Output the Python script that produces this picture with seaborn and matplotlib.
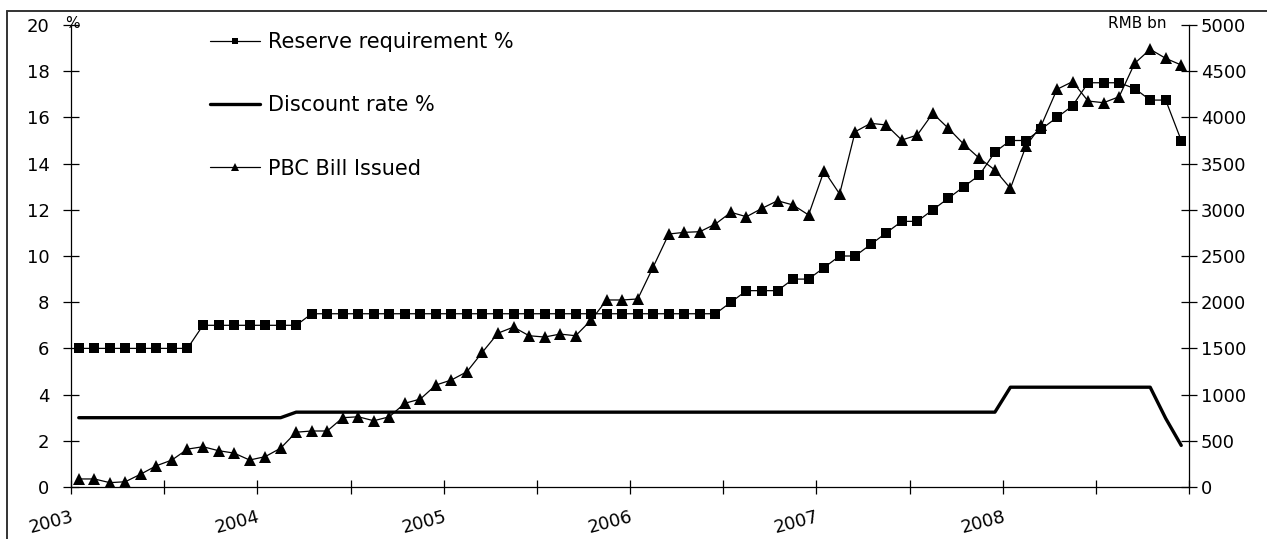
import numpy as np
import pandas as pd
import matplotlib
matplotlib.use("Agg")
import matplotlib.pyplot as plt
import matplotlib.transforms as mtransforms
from matplotlib.lines import Line2D
import seaborn as sns

# ---------------- data ----------------
years = ["2003", "2004", "2005", "2006", "2007", "2008"]
months = pd.date_range("2003-01-01", "2008-12-01", freq="MS")

reserve_req = [6, 6, 6, 6, 6, 6, 6, 6, 7, 7, 7, 7,
               7, 7, 7, 7.5, 7.5, 7.5, 7.5, 7.5, 7.5, 7.5, 7.5, 7.5,
               7.5, 7.5, 7.5, 7.5, 7.5, 7.5, 7.5, 7.5, 7.5, 7.5, 7.5, 7.5,
               7.5, 7.5, 7.5, 7.5, 7.5, 7.5, 8, 8.5, 8.5, 8.5, 9, 9,
               9.5, 10, 10, 10.5, 11, 11.5, 11.5, 12, 12.5, 13, 13.5, 14.5,
               15, 15, 15.5, 16, 16.5, 17.5, 17.5, 17.5, 17.25, 16.75, 16.75, 15]

discount_rate = [3.0] * 14 + [3.24] * 46 + [4.32] * 10 + [2.97, 1.80]

pbc_bills = [87, 87, 47, 57, 140, 230, 292, 410, 436, 393, 367, 292,
             328, 420, 593, 606, 606, 750, 760, 717, 760, 906, 952, 1104,
             1158, 1248, 1460, 1665, 1731, 1637, 1623, 1655, 1637, 1807, 2024, 2024,
             2035, 2384, 2738, 2756, 2763, 2846, 2973, 2925, 3016, 3098, 3052, 2944,
             3423, 3171, 3845, 3936, 3918, 3755, 3809, 4044, 3882, 3709, 3557, 3431,
             3232, 3690, 3918, 4304, 4387, 4177, 4159, 4224, 4585, 4737, 4639, 4567]

series_labels = ["Reserve requirement %", "Discount rate %", "PBC Bill Issued"]

df = pd.DataFrame({
    "i": np.arange(len(months)),
    "reserve": reserve_req,
    "discount": discount_rate,
    "bills": pbc_bills,
})

# ---------------- style ----------------
sns.set_theme(style="white")
plt.rcParams["font.family"] = ["DejaVu Sans"]
plt.rcParams["text.color"] = "black"

W, H = 1267, 539
fig = plt.figure(figsize=(W / 100, H / 100), dpi=100)
ax = fig.add_axes([71 / W, 1 - 487 / H, (1189 - 71) / W, (487 - 25) / H])
ax.set_facecolor("none")
ax2 = ax.twinx()

sns.lineplot(data=df, x="i", y="reserve", ax=ax, color="black", lw=0.9,
             marker="s", markersize=7, markeredgewidth=0, label="_r")
sns.lineplot(data=df, x="i", y="discount", ax=ax, color="black", lw=2.4,
             label="_d")
sns.lineplot(data=df, x="i", y="bills", ax=ax2, color="black", lw=0.9,
             marker="^", markersize=8.5, markeredgewidth=0, label="_b")

n = len(months)
ax.set_xlim(-0.5, n - 0.5)
ax.set_ylim(0, 20)
ax2.set_ylim(0, 5000)
ax.set_yticks(np.arange(0, 21, 2))
ax2.set_yticks(np.arange(0, 5001, 500))

tick_pos = np.arange(-0.5, n, 6)
tick_labels = []
for k in range(len(tick_pos)):
    tick_labels.append(years[k // 2] if (k % 2 == 0 and k // 2 < len(years)) else "")
ax.set_xticks(tick_pos)
ax.set_xticklabels(tick_labels, rotation=15, ha="right", rotation_mode="anchor",
                   fontsize=13, color="black")
shift = mtransforms.ScaledTranslation(-4 / 100, 0, fig.dpi_scale_trans)
for lbl in ax.get_xticklabels():
    lbl.set_transform(lbl.get_transform() + shift)

for a in (ax, ax2):
    a.set_xlabel("")
    a.set_ylabel("")
    a.grid(False)
    for s in a.spines.values():
        s.set_visible(False)
    if a.get_legend():
        a.get_legend().remove()

ax.spines["left"].set_visible(True)
ax.spines["bottom"].set_visible(True)
ax2.spines["right"].set_visible(True)
for s in (ax.spines["left"], ax.spines["bottom"], ax2.spines["right"]):
    s.set_color("black")
    s.set_linewidth(0.9)

ax.tick_params(axis="y", direction="inout", length=12, width=0.9, colors="black",
               labelsize=13, pad=9.5, left=True)
ax.tick_params(axis="x", direction="inout", length=10, width=0.9, colors="black",
               pad=10, bottom=True)
ax2.tick_params(axis="y", direction="inout", length=12, width=0.9, colors="black",
                labelsize=13, pad=2.5, right=True)

# unit labels
ax.text(72 / W, 1 - 24 / H, "%", transform=fig.transFigure, ha="center", va="center",
        fontsize=11, color="black")
ax2.text(1167 / W, 1 - 23 / H, "RMB bn", transform=fig.transFigure,
         ha="right", va="center", fontsize=11, color="black")

# legend
handles = [
    Line2D([], [], color="black", lw=0.9, marker="s", markersize=5, markeredgewidth=0),
    Line2D([], [], color="black", lw=2.4),
    Line2D([], [], color="black", lw=0.9, marker="^", markersize=6, markeredgewidth=0),
]
fig.legend(handles, series_labels, loc="upper left", bbox_to_anchor=(210 / W, 1 - 32 / H),
           bbox_transform=fig.transFigure, frameon=False, fontsize=15,
           handlelength=2.4, handletextpad=0.38, labelspacing=2.08,
           borderpad=0, borderaxespad=0, labelcolor="black")

# outer frame (top and left edges)
fig.add_artist(Line2D([7 / W, 1.0], [1 - 11 / H, 1 - 11 / H], transform=fig.transFigure,
                      color="#333333", lw=1.4))
fig.add_artist(Line2D([7 / W, 7 / W], [0.0, 1 - 11 / H], transform=fig.transFigure,
                      color="#333333", lw=1.4))

fig.savefig("out.png", dpi=100, facecolor="white")
